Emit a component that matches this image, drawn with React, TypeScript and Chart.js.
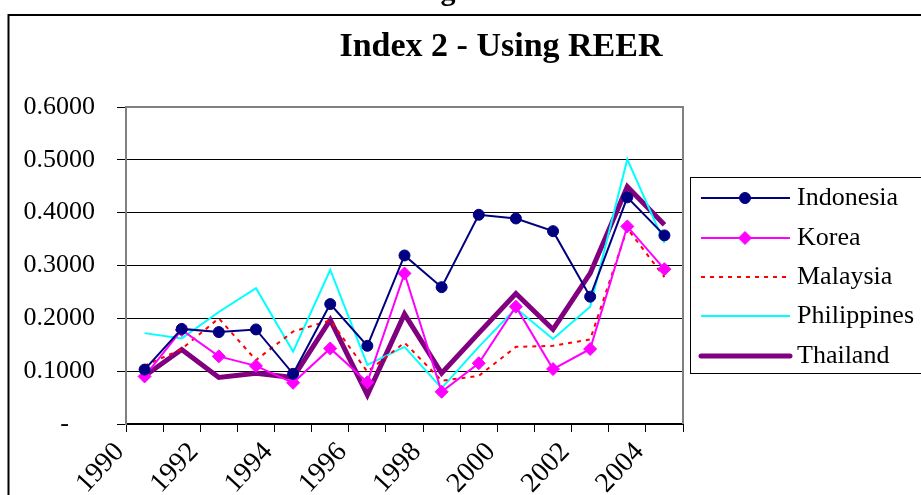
import { useEffect, useRef } from 'react';
import { Chart, registerables } from 'chart.js';

Chart.register(...registerables);

const years = ['1990', '1991', '1992', '1993', '1994', '1995', '1996', '1997', '1998', '1999', '2000', '2001', '2002', '2003', '2004'];
const indonesia = [0.103, 0.180, 0.174, 0.179, 0.095, 0.227, 0.148, 0.319, 0.259, 0.396, 0.389, 0.365, 0.241, 0.429, 0.357];
const korea = [0.090, 0.178, 0.128, 0.110, 0.078, 0.143, 0.079, 0.285, 0.061, 0.115, 0.222, 0.104, 0.142, 0.374, 0.293];
const malaysia = [0.110, 0.142, 0.200, 0.121, 0.175, 0.196, 0.099, 0.154, 0.082, 0.091, 0.146, 0.148, 0.160, 0.370, 0.278];
const philippines = [0.172, 0.162, 0.212, 0.257, 0.137, 0.292, 0.112, 0.146, 0.068, 0.146, 0.219, 0.161, 0.222, 0.501, 0.343];
const thailand = [0.091, 0.141, 0.088, 0.096, 0.088, 0.197, 0.055, 0.208, 0.096, 0.172, 0.247, 0.179, 0.285, 0.449, 0.377];
const yTickLabels = ['-    ', '0.1000', '0.2000', '0.3000', '0.4000', '0.5000', '0.6000'];
const chartTitle = 'Index 2 - Using REER';
const outerTitleFragment = 'g';

const SERIF = '"Liberation Serif", "Times New Roman", serif';

const extrasPlugin = {
  id: 'extras',
  afterDraw(chart: any) {
    const ctx = chart.ctx;
    const area = chart.chartArea;
    ctx.save();
    // clipped outer title fragment
    ctx.fillStyle = '#000';
    ctx.font = 'bold 30px ' + SERIF;
    ctx.textAlign = 'center';
    ctx.textBaseline = 'alphabetic';
    ctx.fillText(outerTitleFragment, 448, -0.5);
    // outer chart border
    ctx.strokeStyle = '#000';
    ctx.lineWidth = 2;
    ctx.beginPath();
    ctx.moveTo(8.5, 520);
    ctx.lineTo(8.5, 15);
    ctx.lineTo(940, 15);
    ctx.stroke();
    // title
    ctx.font = 'bold 34px ' + SERIF;
    ctx.textAlign = 'center';
    ctx.fillText(chartTitle, 501, 56);
    // plot area border (top and right)
    ctx.strokeStyle = '#808080';
    ctx.lineWidth = 2;
    ctx.beginPath();
    ctx.moveTo(area.left, area.top);
    ctx.lineTo(area.right, area.top);
    ctx.lineTo(area.right, area.bottom);
    ctx.stroke();
    // legend
    const lx = 690, ly = 177, lw = 260, lh = 196;
    ctx.strokeStyle = '#000';
    ctx.lineWidth = 1;
    ctx.strokeRect(lx + 0.5, ly + 0.5, lw, lh);
    const rowY = [198, 238, 277, 316, 356];
    chart.data.datasets.forEach((ds: any, i: number) => {
      const y = rowY[i];
      ctx.save();
      ctx.strokeStyle = ds.borderColor;
      ctx.lineWidth = ds.borderWidth;
      ctx.setLineDash(ds.borderDash || []);
      ctx.lineCap = ds.borderWidth > 3 ? 'round' : 'butt';
      ctx.beginPath();
      ctx.moveTo(701, y);
      ctx.lineTo(790, y);
      ctx.stroke();
      ctx.restore();
      if (ds.pointRadius > 0) {
        ctx.save();
        ctx.fillStyle = ds.pointBackgroundColor;
        ctx.strokeStyle = ds.pointBorderColor;
        ctx.lineWidth = 1;
        ctx.beginPath();
        if (ds.pointStyle === 'rectRot') {
          const r = ds.pointRadius;
          ctx.moveTo(745 - r, y);
          ctx.lineTo(745, y - r);
          ctx.lineTo(745 + r, y);
          ctx.lineTo(745, y + r);
          ctx.closePath();
        } else {
          ctx.arc(745, y, ds.pointRadius, 0, Math.PI * 2);
        }
        ctx.fill();
        ctx.stroke();
        ctx.restore();
      }
      ctx.fillStyle = '#000';
      ctx.font = '26px ' + SERIF;
      ctx.textAlign = 'left';
      ctx.textBaseline = 'middle';
      ctx.fillText(ds.label, 797, y);
    });
    ctx.restore();
  },
};

export default function App() {
  const canvasRef = useRef<HTMLCanvasElement | null>(null);

  useEffect(() => {
    const canvas = canvasRef.current;
    if (!canvas) return;
    const chart = new Chart(canvas, {
      type: 'line',
      data: {
        labels: years,
        datasets: [
          {
            label: 'Indonesia',
            data: indonesia,
            borderColor: '#000080',
            backgroundColor: '#000080',
            borderWidth: 2,
            pointStyle: 'circle',
            pointRadius: 5.5,
            pointBackgroundColor: '#000080',
            pointBorderColor: '#000080',
            pointBorderWidth: 1,
            tension: 0,
          },
          {
            label: 'Korea',
            data: korea,
            borderColor: '#FF00FF',
            backgroundColor: '#FF00FF',
            borderWidth: 2,
            pointStyle: 'rectRot',
            pointRadius: 6.5,
            pointBackgroundColor: '#FF00FF',
            pointBorderColor: '#FF00FF',
            pointBorderWidth: 1,
            tension: 0,
          },
          {
            label: 'Malaysia',
            data: malaysia,
            borderColor: '#FF0000',
            backgroundColor: '#FF0000',
            borderWidth: 2,
            borderDash: [4, 5],
            pointRadius: 0,
            tension: 0,
          },
          {
            label: 'Philippines',
            data: philippines,
            borderColor: '#00FFFF',
            backgroundColor: '#00FFFF',
            borderWidth: 2,
            pointRadius: 0,
            tension: 0,
          },
          {
            label: 'Thailand',
            data: thailand,
            borderColor: '#800080',
            backgroundColor: '#800080',
            borderWidth: 5,
            pointRadius: 0,
            tension: 0,
          },
        ],
      },
      options: {
        responsive: false,
        animation: false,
        events: [],
        layout: { padding: { left: 0, top: 107, right: 238, bottom: 0 } },
        plugins: {
          legend: { display: false },
          title: { display: false },
          tooltip: { enabled: false },
        },
        scales: {
          x: {
            type: 'category',
            offset: true,
            afterFit: (scale: any) => {
              scale.height = 71;
            },
            grid: {
              offset: true,
              drawOnChartArea: false,
              drawTicks: true,
              tickLength: 8,
              color: '#000',
              lineWidth: 1,
            },
            border: { display: true, color: '#000', width: 2 },
            ticks: {
              autoSkip: false,
              maxRotation: 47,
              minRotation: 47,
              labelOffset: -25,
              padding: 4,
              color: '#000',
              font: { family: SERIF, size: 28 },
              callback: (_v: any, index: number) => (index % 2 === 0 ? years[index] : ''),
            },
          },
          y: {
            type: 'linear',
            min: 0,
            max: 0.6,
            afterFit: (scale: any) => {
              scale.width = 126;
            },
            grid: {
              color: '#000',
              lineWidth: 1,
              tickLength: 9,
              drawTicks: true,
            },
            border: { display: true, color: '#808080', width: 2 },
            ticks: {
              stepSize: 0.1,
              padding: 22,
              color: '#000',
              font: { family: SERIF, size: 26 },
              callback: (_v: any, index: number) => yTickLabels[index],
            },
          },
        },
      },
      plugins: [extrasPlugin],
    });
    return () => chart.destroy();
  }, []);

  return (
    <div style={{ position: 'absolute', left: 0, top: 0, width: 921, height: 495, overflow: 'hidden', background: '#fff' }}>
      <canvas ref={canvasRef} width={921} height={495} style={{ display: 'block' }} />
    </div>
  );
}
